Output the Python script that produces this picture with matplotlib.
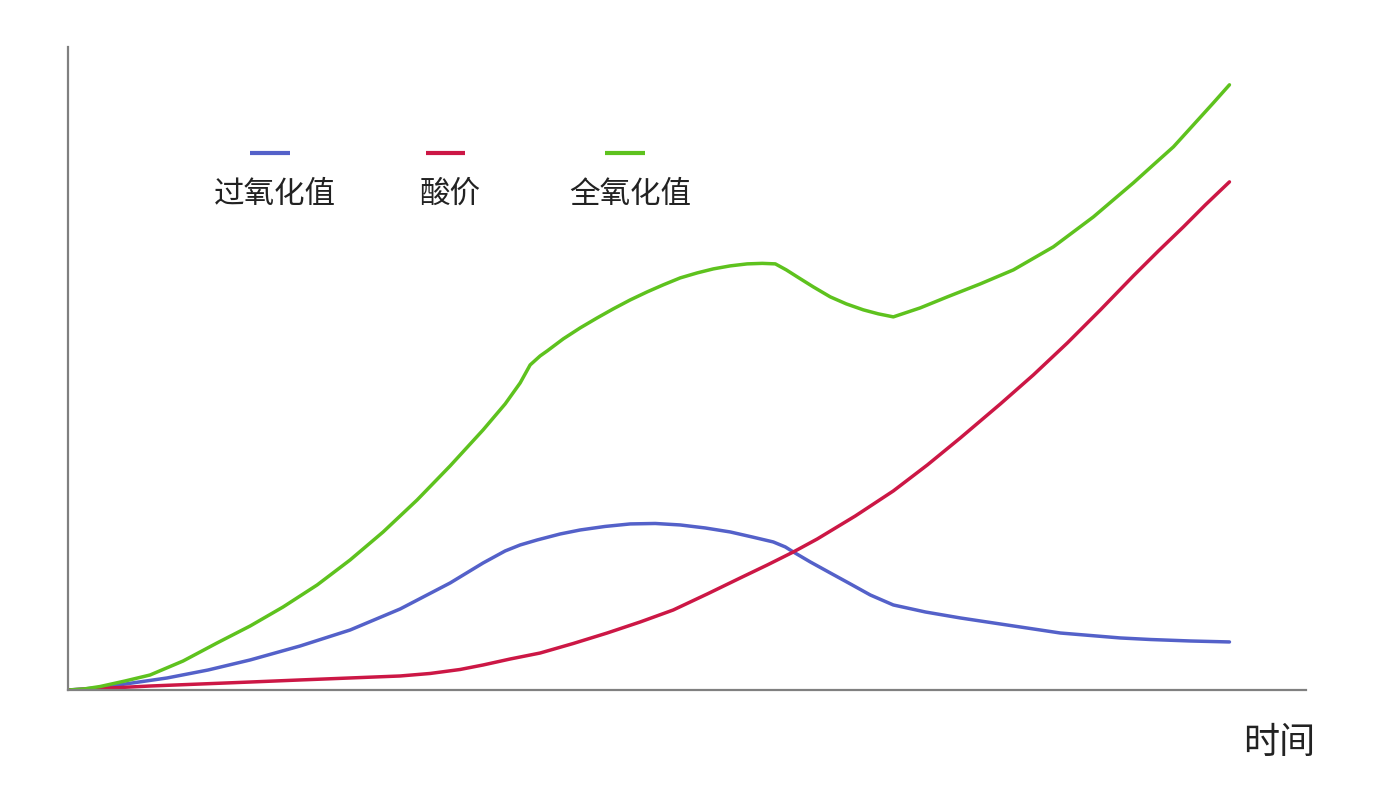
import matplotlib
matplotlib.use('Agg')
import matplotlib.pyplot as plt

plt.rcParams['font.family'] = ['Noto Sans CJK SC', 'DejaVu Sans']

# time axis (0..100) and values (0..100)
peroxide_t = [0, 1.38, 2.76, 4.91, 8.53, 12.06, 15.68, 19.98, 24.29, 28.60,
              32.90, 35.74, 37.64, 38.93, 40.40, 42.38, 44.10, 46.25, 48.41,
              50.56, 52.71, 54.87, 57.02, 58.91, 60.72, 61.76, 62.45, 63.91,
              65.63, 67.36, 69.08, 71.06, 73.82, 76.83, 80.28, 85.44, 90.61,
              93.20, 96.64, 100]
peroxide_v = [0, 0.16, 0.39, 0.93, 1.87, 3.11, 4.67, 6.84, 9.33, 12.60,
              16.64, 19.75, 21.62, 22.55, 23.33, 24.26, 24.88, 25.43, 25.82,
              25.89, 25.66, 25.19, 24.57, 23.79, 23.02, 22.24, 21.46, 19.91,
              18.20, 16.49, 14.77, 13.22, 12.13, 11.20, 10.26, 8.86, 8.09,
              7.85, 7.62, 7.47]

acid_t = [0, 2.76, 7.06, 11.37, 15.68, 19.98, 24.29, 28.60, 31.18, 33.76,
          35.74, 38.07, 40.65, 43.50, 46.42, 49.27, 52.11, 55.04, 57.88,
          60.21, 62.45, 64.51, 67.79, 71.06, 73.99, 76.83, 80.28, 83.12,
          86.05, 88.89, 91.73, 93.89, 96.04, 97.93, 100]
acid_v = [0, 0.23, 0.62, 0.93, 1.24, 1.56, 1.87, 2.18, 2.57, 3.19,
          3.89, 4.82, 5.75, 7.23, 8.86, 10.58, 12.44, 14.93, 17.42,
          19.44, 21.46, 23.48, 27.06, 30.95, 34.99, 39.19, 44.48, 48.99,
          53.97, 59.10, 64.39, 68.27, 72.01, 75.43, 79.00]

total_t = [0, 1.38, 2.76, 4.91, 7.06, 9.91, 12.83, 15.68, 18.52, 21.45,
           24.29, 27.13, 30.06, 32.90, 35.74, 37.64, 38.93, 39.79, 40.65,
           41.26, 42.64, 44.10, 45.56, 46.94, 48.41, 49.87, 51.25, 52.71,
           54.18, 55.56, 57.02, 58.48, 59.78, 60.90, 61.84, 62.79, 64.17,
           65.63, 67.01, 68.48, 69.77, 71.06, 73.38, 75.71, 78.55, 81.40,
           84.84, 88.29, 90.01, 91.73, 93.45, 95.18, 96.90, 98.62, 100]
total_v = [0, 0.16, 0.54, 1.40, 2.33, 4.51, 7.31, 9.95, 12.91, 16.33,
           20.22, 24.57, 29.55, 34.84, 40.44, 44.48, 47.74, 50.54, 51.94,
           52.72, 54.59, 56.30, 57.85, 59.25, 60.65, 61.90, 62.99, 64.07,
           64.85, 65.47, 65.94, 66.25, 66.33, 66.25, 65.32, 64.23, 62.67,
           61.12, 60.03, 59.10, 58.48, 58.01, 59.41, 61.12, 63.14, 65.32,
           68.90, 73.56, 76.21, 78.85, 81.65, 84.45, 87.87, 91.29, 94.09]

labels = ['过氧化值', '酸价', '全氧化值']
colors = ['#5461c9', '#cc1745', '#5ec21e']

fig = plt.figure(figsize=(13.88, 8), dpi=100)
ax = fig.add_axes([0.049, 0.1375, 0.892, 0.804])

series = [(peroxide_t, peroxide_v), (acid_t, acid_v), (total_t, total_v)]
for (t, v), c in zip(series, colors):
    ax.plot(t, v, color=c, lw=2.5, solid_joinstyle='round', solid_capstyle='round')

ax.set_xlim(0, 106.6)
ax.set_ylim(0, 100)
ax.set_xticks([])
ax.set_yticks([])
for side in ['top', 'right']:
    ax.spines[side].set_visible(False)
for side in ['left', 'bottom']:
    ax.spines[side].set_color('#808080')
    ax.spines[side].set_linewidth(1.6)

# hand made legend: short line above each label
leg_x = [0.163, 0.305, 0.45]   # axes fraction, centres
for x, lab, c in zip(leg_x, labels, colors):
    ax.plot([x - 0.016, x + 0.016], [0.835, 0.835], transform=ax.transAxes,
            color=c, lw=3, solid_capstyle='butt', clip_on=False)
    ax.text(x + 0.004, 0.771, lab, transform=ax.transAxes, ha='center', va='center',
            fontsize=22, color='#222222')

ax.text(0.978, -0.082, '时间', transform=ax.transAxes, ha='center', va='center',
        fontsize=26, color='#222222')

fig.savefig('out.png', dpi=100, facecolor='white')
